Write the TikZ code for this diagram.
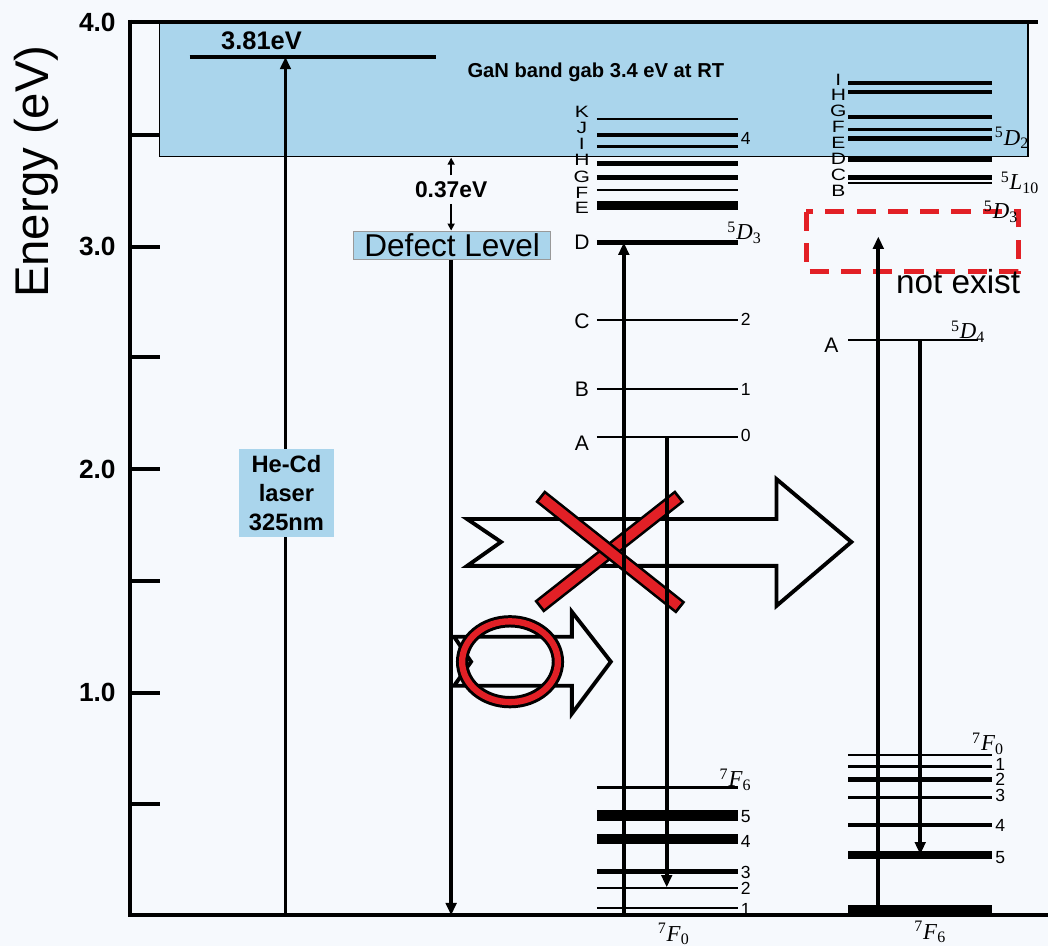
\documentclass[tikz,border=0pt]{standalone}
\usepackage{fontspec}
\usepackage{graphicx}
\setmainfont{Liberation Sans}
\newfontfamily\termfont{Liberation Serif}
\usetikzlibrary{arrows.meta}
\definecolor{gapblue}{RGB}{170,213,236}
\definecolor{xred}{RGB}{226,32,38}
\definecolor{paper}{RGB}{246,249,253}
\newcommand{\term}[3]{{\termfont\textsuperscript{#1}\textit{#2}\textsubscript{#3}}}
\newcommand{\fs}[1]{\fontsize{#1}{#1}\selectfont}
\newcommand{\squash}[1]{\scalebox{1}[0.78]{#1}}

\begin{document}
\begin{tikzpicture}[x=0.02cm,y=-0.02cm,
 lvl/.style={line width=#1},
 arr/.style={-{Triangle[length=7pt,width=6pt]},line width=2.2pt},
 tiny/.style={-{Triangle[length=4pt,width=4pt]},line width=0.9pt},
 ticklab/.style={font=\bfseries\fs{15},anchor=east},
 lett/.style={font=\fs{12},inner sep=0pt},
 num/.style={font=\fs{10},inner sep=0pt,anchor=west},
 trm/.style={font=\fs{13},inner sep=0pt},
 bluebox/.style={fill=gapblue,draw=black!40,line width=0.4pt,inner sep=1pt},
 hollow/.style={draw=black,line width=2.2pt,line join=miter},
 ring/.style={line width=7pt},
 bar/.style={line width=8.5pt}]
% page and band gap
\fill[paper] (0,0) rectangle (1050,948);
\fill[gapblue] (160,24) rectangle (1030,157);
\draw[line width=0.8pt] (160,22) -- (160,157) -- (1030,157) -- (1030,22);
% axis
\draw[line width=2.3pt] (130,22) -- (1040,22);
\draw[line width=2.3pt] (130,20) -- (130,917) -- (1050,917);
\foreach \y in {135,247,358,470,582,694,806}
  \draw[line width=2.3pt] (130,\y) -- (160,\y);
\node[ticklab] (t4) at (122,22) {4.0};
\node[ticklab] (t3) at (122,247) {3.0};
\node[ticklab] (t2) at (122,470) {2.0};
\node[ticklab] (t1) at (122,694) {1.0};
\node[rotate=90,font=\fs{27}] (ylab) at (36,172) {Energy (eV)};
\node[font=\bfseries\fs{11.5}] (gan) at (597,72) {GaN band gab 3.4 eV at RT};

% big and small hollow arrows, cross and ring
\draw[hollow] (468,520) -- (778,520) -- (778,480) -- (853,543) -- (778,607)
  -- (778,567) -- (468,567) -- (502,543) -- cycle;
\draw[hollow] (455,638) -- (573,638) -- (573,613) -- (612,663) -- (573,715)
  -- (573,687) -- (455,687) -- (472,663) -- cycle;
\draw[bar] (540,608) -- (681,497);
\draw[bar,xred,line width=5.5pt,shorten <=1.6pt,shorten >=1.6pt] (540,608) -- (681,497);
\draw[bar] (541,497) -- (682,609);
\draw[bar,xred,line width=5.5pt,shorten <=1.6pt,shorten >=1.6pt] (541,497) -- (682,609);
\draw[ring] (511,663) ellipse [x radius=0.96cm,y radius=0.81cm];
\draw[ring,xred,line width=3.6pt] (511,663) ellipse [x radius=0.96cm,y radius=0.81cm];

% laser and defect level
\draw[lvl=2.6pt] (190,57) -- (437,57);
\node[font=\bfseries\fs{14.5}] (l381) at (262,41) {3.81eV};
\coordinate (lsrA) at (286,917);
\coordinate (lsrB) at (286,57);
\draw[arr] (lsrA) -- (lsrB);
\node[bluebox,minimum width=1.9cm,minimum height=1.76cm,align=center,
  font=\bfseries\fs{13.5},draw=none] (hecd) at (287,494) {He-Cd\\[3pt]laser\\[3pt]325nm};
\node[font=\bfseries\fs{13}] (gap37) at (452,190) {0.37eV};
\coordinate (gbot) at (452,158);
\coordinate (dtop) at (452,231);
\draw[tiny] (gap37.north) -- (gbot);
\draw[tiny] (gap37.south) -- (dtop);
\node[bluebox,minimum width=3.94cm,minimum height=0.56cm,font=\fs{18}] (defect) at (453,246) {Defect Level};
\coordinate (dbot) at (452,917);
\draw[arr] (defect.south -| dbot) -- (dbot);

% Eu3+ levels
\foreach \y/\w in {119/1.2pt,135/2.4pt,147/1.6pt,164/2.6pt,178/2.6pt,190/1.2pt,206/5.5pt,
  243/2.4pt,321/1.1pt,390/1.1pt,438/1.1pt,789/1.8pt,817/6.5pt,841/5.8pt,873/2.6pt,890/1.1pt,910/1.1pt}
  \draw[lvl=\w] (598,\y) -- (739,\y);
\foreach \l/\y in {K/112,J/128,I/144,H/160,G/177,F/193,E/208}
  \node[lett] (eu\l) at (583,\y) {\squash{\l}};
\foreach \l/\y in {D/243,C/322,B/390,A/444}
  \node[lett] (eu\l) at (583,\y) {\l};
\foreach \n/\y/\k in {4/139/a,2/320/b,1/390/c,0/436/d,5/818/f,4/843/g,3/874/h,2/890/i,1/911/j}
  \node[num] (eun\k) at (742,\y) {\n};
\node[trm] (euD3) at (746,233) {\term{5}{D}{3}};
\node[trm] (euF6) at (737,781) {\term{7}{F}{6}};
\node[trm] (euF0) at (675,936) {\term{7}{F}{0}};
\coordinate (euG) at (625,917);
\coordinate (euDl) at (625,243);
\coordinate (euAl) at (668,438);
\coordinate (eu2l) at (668,889);
\draw[arr] (euG) -- (euDl);
\draw[arr] (euAl) -- (eu2l);

% Tb3+ levels
\foreach \y/\w in {83/2.6pt,92/2.6pt,117/2.6pt,130/1.7pt,139/2.6pt,160/2.8pt,178/2.8pt,183/1.1pt,
  756/1.1pt,768/1.8pt,781/2.3pt,799/1.5pt,827/2.3pt,857/4.6pt,912/5.5pt}
  \draw[lvl=\w] (850,\y) -- (994,\y);
\draw[lvl=1.1pt] (850,341) -- (980,341);
\foreach \l/\y in {I/80,H/95,G/111,F/127,E/143,D/159,C/175,B/191}
  \node[lett] (tb\l) at (840,\y) {\squash{\l}};
\node[lett] (tbA) at (833,346) {A};
\foreach \n/\y/\k in {1/766/a,2/781/b,3/797/c,4/827/d,5/859/e}
  \node[num] (tbn\k) at (997,\y) {\n};
\node[trm] (tbD2) at (1014,138) {\term{5}{D}{2}};
\node[trm] (tbL10) at (1022,183) {\term{5}{L}{10}};
\node[trm] (tbD4) at (970,332) {\term{5}{D}{4}};
\node[trm] (tbF0) at (990,745) {\term{7}{F}{0}};
\node[trm] (tbF6) at (932,934) {\term{7}{F}{6}};
\draw[xred,line width=2.8pt,dash pattern=on 11pt off 7pt] (808,212) rectangle (1020,272);
\node[trm] (tbD3) at (1003,212) {\term{5}{D}{3}};
\node[font=\fs{19}] (nox) at (960,282) {not exist};
\coordinate (tbG) at (880,917);
\coordinate (tbX) at (880,237);
\coordinate (tbAl) at (922,341);
\coordinate (tb5l) at (922,856);
\draw[arr] (tbG) -- (tbX);
\draw[arr] (tbAl) -- (tb5l);
\end{tikzpicture}
\end{document}
